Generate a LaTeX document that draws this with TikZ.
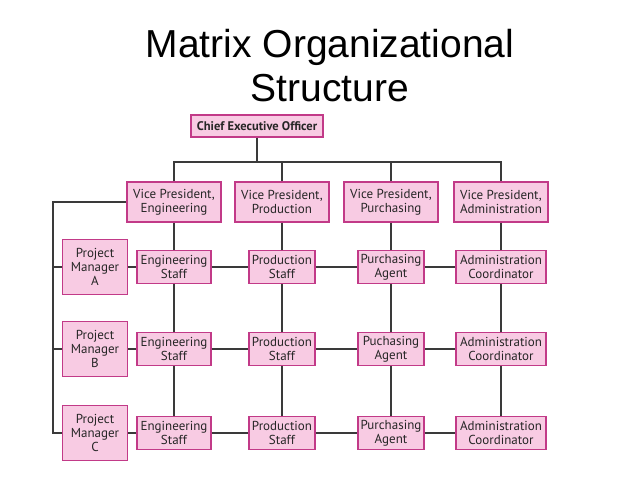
\documentclass[tikz,border=0pt]{standalone}
\usepackage{fontspec}
\setmainfont{PT Sans}
\newfontfamily\titlefont{Liberation Sans}
\definecolor{boxfill}{HTML}{F8CBE3}
\definecolor{boxline}{HTML}{C23A88}
\definecolor{wire}{HTML}{3A3A3A}
\begin{document}
\begin{tikzpicture}[x=1pt,y=-1pt,
	box/.style={draw=boxline,fill=boxfill,line width=1.4pt,align=center,inner sep=1pt,
		font=\fontsize{13}{14}\selectfont,text=black!85},
	wire/.style={draw=wire,line width=1.3pt}]
	\useasboundingbox (0,0) rectangle (638,479);
	
	\node[font=\titlefont\fontsize{39}{44}\selectfont,align=center] (title) at (330,66) {Matrix Organizational\\Structure};
	
	\node[box,minimum width=132,minimum height=22,font=\bfseries\fontsize{12.5}{14}\selectfont] (ceo) at (257,126) {Chief Executive Officer};
	
	\node[box,minimum width=94,minimum height=40] (vpEng) at (174,202) {Vice President,\\Engineering};
	\node[box,minimum width=94,minimum height=40] (vpProd) at (282,202) {Vice President,\\Production};
	\node[box,minimum width=94,minimum height=40] (vpPur) at (391,202) {Vice President,\\Purchasing};
	\node[box,minimum width=94,minimum height=40] (vpAdm) at (501,202) {Vice President,\\Administration};
	
	\foreach \r/\y/\pu in {A/267/Purchasing,B/349/Puchasing,C/433/Purchasing}{
		\node[box,minimum width=65,minimum height=55] (pm\r) at (95,\y) {Project\\Manager\\\r};
		\node[box,minimum width=74,minimum height=33] (eng\r) at (174,\y) {Engineering\\Staff};
		\node[box,minimum width=66,minimum height=33] (prod\r) at (282,\y) {Production\\Staff};
		\node[box,minimum width=66,minimum height=33] (pur\r) at (391,\y) {\pu\\Agent};
		\node[box,minimum width=90,minimum height=33] (adm\r) at (501,\y) {Administration\\Coordinator};
		\draw[wire] (pm\r) -- (eng\r) -- (prod\r) -- (pur\r) -- (adm\r);
	}
	
	% tree under the CEO
	\coordinate (bar) at (257,162);
	\coordinate (spine) at (53,202);
	\draw[wire] (ceo) -- (bar);
	\draw[wire] (vpEng) |- (bar) -| (vpAdm);
	\draw[wire] (vpProd) -- (vpProd |- bar);
	\draw[wire] (vpPur) -- (vpPur |- bar);
	
	% columns
	\draw[wire] (vpEng) -- (engA) -- (engB) -- (engC);
	\draw[wire] (vpProd) -- (prodA) -- (prodB) -- (prodC);
	\draw[wire] (vpPur) -- (purA) -- (purB) -- (purC);
	\draw[wire] (vpAdm) -- (admA) -- (admB) -- (admC);
	
	% project managers
	\draw[wire] (vpEng) -- (spine) |- (pmC);
	\draw[wire] (spine |- pmA) -- (pmA);
	\draw[wire] (spine |- pmB) -- (pmB);
\end{tikzpicture}
\end{document}
